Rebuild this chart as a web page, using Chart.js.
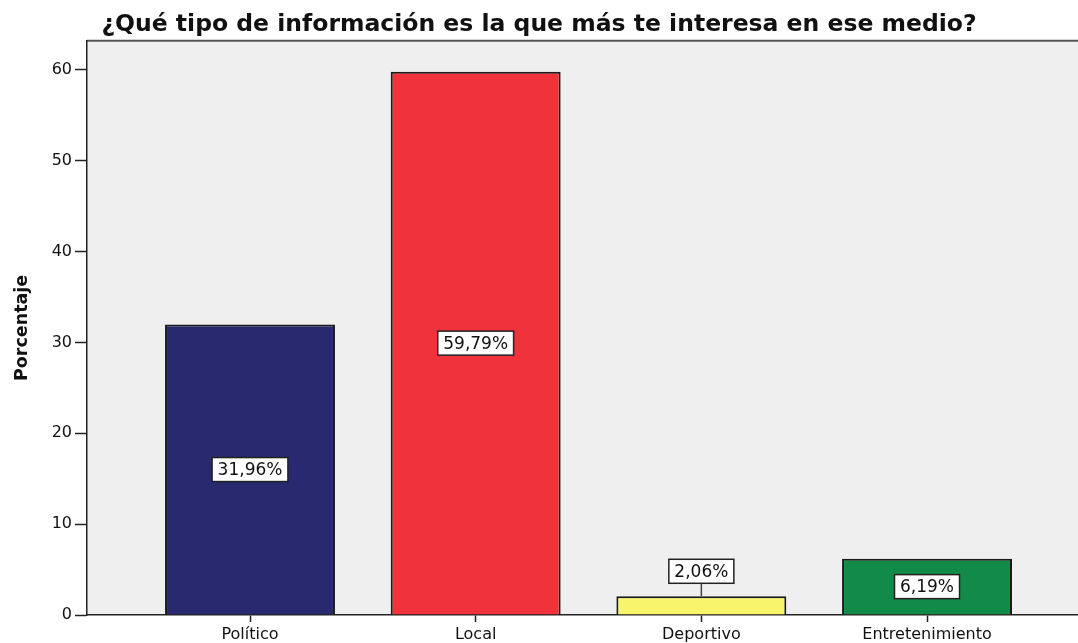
<!DOCTYPE html>
<html>
<head>
<meta charset="utf-8">
<script src="https://cdn.jsdelivr.net/npm/chart.js@4/dist/chart.umd.min.js"></script>
<style>
  body { margin: 0; background: #fff; overflow: hidden; }
</style>
</head>
<body>
<canvas id="chart" width="1078" height="643"></canvas>
<script>
//data
const categories = ['Político', 'Local', 'Deportivo', 'Entretenimiento'];
const percentages = [31.96, 59.79, 2.06, 6.19];
const barColors = ['#29296f', '#f0323a', '#f8f46c', '#128b48'];
const yTicks = [0, 10, 20, 30, 40, 50, 60];

const textFont = 'DejaVu Sans';

//plot background + top frame line
const frame = {
    id: 'frame',
    beforeDraw: (chart) => {
        const {ctx, chartArea: a} = chart;
        ctx.save();
        ctx.fillStyle = '#efefef';
        ctx.fillRect(a.left, a.top, a.right - a.left, a.bottom - a.top);
        ctx.strokeStyle = '#555';
        ctx.lineWidth = 2;
        ctx.beginPath();
        ctx.moveTo(a.left, a.top);
        ctx.lineTo(a.right, a.top);
        ctx.stroke();
        ctx.restore();
    }
};

//boxed percentage labels
const boxLabels = {
    id: 'boxLabels',
    afterDatasetsDraw: (chart) => {
        const ctx = chart.ctx;
        const meta = chart.getDatasetMeta(0);
        ctx.save();
        ctx.font = '17px "' + textFont + '"';
        ctx.textAlign = 'center';
        ctx.textBaseline = 'middle';
        meta.data.forEach((bar, i) => {
            const text = percentages[i].toFixed(2).replace('.', ',') + '%';
            const w = ctx.measureText(text).width + 11;
            const h = 24;
            const barH = bar.base - bar.y;
            let cy = bar.y + barH / 2;
            const outside = barH < h + 6;
            if (outside) cy = bar.y - 25;
            if (outside) {
                ctx.strokeStyle = '#444';
                ctx.lineWidth = 1.5;
                ctx.beginPath();
                ctx.moveTo(bar.x, cy + h / 2);
                ctx.lineTo(bar.x, bar.y);
                ctx.stroke();
            }
            ctx.fillStyle = '#fff';
            ctx.fillRect(bar.x - w / 2, cy - h / 2, w, h);
            ctx.strokeStyle = '#222';
            ctx.lineWidth = 1.5;
            ctx.strokeRect(bar.x - w / 2, cy - h / 2, w, h);
            ctx.fillStyle = '#111';
            ctx.fillText(text, bar.x, cy + 1);
        });
        ctx.restore();
    }
};

const ctx = document.querySelector('#chart').getContext('2d');

const chart = new Chart(ctx, {
    type: 'bar',
    data: {
        labels: categories,
        datasets: [{
            label: 'Porcentaje',
            data: percentages.map((v, i) => ({x: i, y: v})),
            backgroundColor: barColors,
            borderColor: '#1a1a1a',
            borderWidth: 2,
            categoryPercentage: 0.753,
            barPercentage: 1
        }]
    },
    options: {
        responsive: false,
        animation: false,
        devicePixelRatio: 1,
        layout: { padding: 0 },
        plugins: {
            legend: { display: false },
            tooltip: { enabled: false },
            title: {
                display: true,
                text: '¿Qué tipo de información es la que más te interesa en ese medio?',
                color: '#111',
                font: { family: textFont, size: 23.5, weight: 'bold', lineHeight: 1.1 },
                padding: { top: 12, bottom: 3 }
            }
        },
        scales: {
            x: {
                type: 'linear',
                offset: false,
                min: -0.7223,
                max: 3.669,
                afterBuildTicks: (scale) => {
                    scale.ticks = categories.map((c, i) => ({value: i}));
                },
                afterFit: (scale) => { scale.height = 28; },
                ticks: {
                    autoSkip: false,
                    maxRotation: 0,
                    padding: 3,
                    color: '#111',
                    font: { family: textFont, size: 16 },
                    callback: (v) => categories[v]
                },
                grid: {
                    offset: false,
                    drawOnChartArea: false,
                    tickLength: 7,
                    tickWidth: 1.5,
                    color: '#222'
                },
                border: { display: true, color: '#222', width: 1.5 }
            },
            y: {
                min: 0,
                max: 63.19,
                afterBuildTicks: (scale) => {
                    scale.ticks = yTicks.map(v => ({value: v}));
                },
                afterFit: (scale) => { scale.width = 87; },
                ticks: {
                    padding: 3,
                    color: '#111',
                    font: { family: textFont, size: 16 }
                },
                grid: {
                    drawOnChartArea: false,
                    tickLength: 12,
                    tickWidth: 1.5,
                    color: '#222'
                },
                border: { display: true, color: '#222', width: 1.5 },
                title: {
                    display: true,
                    text: 'Porcentaje',
                    color: '#111',
                    font: { family: textFont, size: 17.5, weight: 'bold', lineHeight: 1.2 },
                    padding: { top: 12, bottom: 0 }
                }
            }
        }
    },
    plugins: [frame, boxLabels]
});
</script>
</body>
</html>
